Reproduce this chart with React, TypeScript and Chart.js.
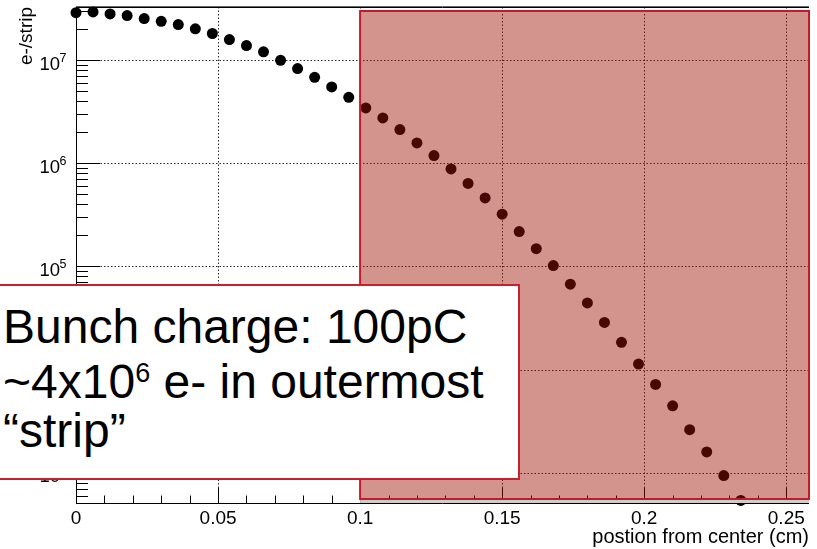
import React, { useEffect, useRef } from 'react';
import { Chart, registerables } from 'chart.js';

Chart.register(...registerables);

// ---- data ----
const positions = [
  0, 0.006, 0.012, 0.018, 0.024, 0.03, 0.036, 0.042, 0.048, 0.054,
  0.06, 0.066, 0.072, 0.078, 0.084, 0.09, 0.096, 0.102, 0.108, 0.114,
  0.12, 0.126, 0.132, 0.138, 0.144, 0.15, 0.156, 0.162, 0.168, 0.174,
  0.18, 0.186, 0.192, 0.198, 0.204, 0.21, 0.216, 0.222, 0.228, 0.234,
];
const electronsPerStrip = [
  2.9e7, 2.95e7, 2.82e7, 2.72e7, 2.54e7, 2.39e7, 2.22e7, 2.02e7, 1.82e7, 1.59e7,
  1.39e7, 1.21e7, 1.0e7, 8.31e6, 6.84e6, 5.52e6, 4.38e6, 3.45e6, 2.76e6, 2.13e6,
  1.58e6, 1.19e6, 8.83e5, 6.4e5, 4.62e5, 3.22e5, 2.18e5, 1.49e5, 1.02e5, 6.73e4,
  4.43e4, 2.87e4, 1.84e4, 1.13e4, 7.18e3, 4.45e3, 2.61e3, 1.59e3, 9.37e2, 5.38e2,
];
const xMajorTicks = [0, 0.05, 0.1, 0.15, 0.2, 0.25];
const yDecadeExponents = [3, 4, 5, 6, 7];
const xRange = [0, 0.258];
const yRange = [508, 3.29e7];
const shadedFrom = 0.1;
const xTitle = 'postion from center (cm)';
const yTitle = 'e-/strip';

const FONT = "'Liberation Sans', Arial, Helvetica, sans-serif";

const rootStyle = {
  id: 'rootStyle',
  beforeDatasetsDraw(chart: any) {
    const { ctx, chartArea: a, scales } = chart;
    const x = scales.x;
    const y = scales.y;
    ctx.save();
    // dotted grid
    ctx.strokeStyle = '#2a2a2a';
    ctx.lineWidth = 1;
    ctx.setLineDash([1.5, 2]);
    ctx.beginPath();
    for (const v of xMajorTicks) {
      if (v <= xRange[0]) continue;
      const px = Math.round(x.getPixelForValue(v)) + 0.5;
      ctx.moveTo(px, a.top);
      ctx.lineTo(px, a.bottom);
    }
    for (const e of yDecadeExponents) {
      const py = Math.round(y.getPixelForValue(Math.pow(10, e))) + 0.5;
      ctx.moveTo(a.left, py);
      ctx.lineTo(a.right, py);
    }
    ctx.stroke();
    ctx.setLineDash([]);

    // frame
    ctx.strokeStyle = '#000';
    ctx.lineWidth = 1;
    ctx.beginPath();
    ctx.moveTo(a.left + 0.5, a.top + 0.5);
    ctx.lineTo(a.right, a.top + 0.5);
    ctx.moveTo(a.left + 0.5, a.top);
    ctx.lineTo(a.left + 0.5, a.bottom + 1);
    ctx.moveTo(a.left, a.bottom + 0.5);
    ctx.lineTo(a.right, a.bottom + 0.5);
    ctx.stroke();
    ctx.strokeStyle = '#666';
    ctx.beginPath();
    ctx.moveTo(a.left, a.top - 0.5);
    ctx.lineTo(a.right, a.top - 0.5);
    ctx.stroke();

    // y ticks (inside)
    ctx.strokeStyle = '#000';
    ctx.beginPath();
    for (let n = 2; n <= 7; n++) {
      for (let m = 1; m <= 9; m++) {
        const v = m * Math.pow(10, n);
        if (v < yRange[0] || v > yRange[1]) continue;
        const py = Math.round(y.getPixelForValue(v)) + 0.5;
        const len = m === 1 ? 24 : 12;
        ctx.moveTo(a.left, py);
        ctx.lineTo(a.left + len, py);
      }
    }
    // x ticks (inside)
    for (let k = 0; k <= 25; k++) {
      const v = k / 100;
      const px = Math.round(x.getPixelForValue(v)) + 0.5;
      const len = k % 5 === 0 ? 15 : 7.5;
      ctx.moveTo(px, a.bottom);
      ctx.lineTo(px, a.bottom - len);
    }
    ctx.stroke();

    // y decade labels with exponents
    ctx.fillStyle = '#000';
    for (const e of yDecadeExponents) {
      const py = y.getPixelForValue(Math.pow(10, e));
      ctx.font = `18.5px ${FONT}`;
      ctx.textAlign = 'right';
      ctx.textBaseline = 'alphabetic';
      ctx.fillText('10', 60, py + 9.5);
      ctx.font = `12.5px ${FONT}`;
      ctx.textAlign = 'left';
      ctx.fillText(String(e), 59.5, py + 1.5);
    }
    ctx.restore();
  },
  afterDatasetsDraw(chart: any) {
    const { ctx, chartArea: a, scales } = chart;
    const x0 = scales.x.getPixelForValue(shadedFrom);
    const top = a.top + 4;
    const bottom = a.bottom - 4;
    ctx.save();
    ctx.fillStyle = '#cccccc';
    ctx.fillRect(x0, bottom, a.right - x0, a.bottom - bottom);
    ctx.fillStyle = 'rgba(160,18,4,0.45)';
    ctx.fillRect(x0, top, a.right - x0, bottom - top);
    ctx.strokeStyle = '#c01a2c';
    ctx.lineWidth = 2;
    ctx.strokeRect(x0, top, a.right - x0, bottom - top);
    ctx.restore();
  },
};

export default function App() {
  const canvasRef = useRef<HTMLCanvasElement | null>(null);

  useEffect(() => {
    if (!canvasRef.current) return;
    const chart = new Chart(canvasRef.current, {
      type: 'scatter',
      data: {
        datasets: [
          {
            data: positions.map((p, i) => ({ x: p, y: electronsPerStrip[i] })),
            backgroundColor: '#000',
            borderColor: '#000',
            borderWidth: 0,
            pointRadius: 5.5,
            pointHoverRadius: 5.5,
            showLine: false,
            clip: false as any,
          },
        ],
      },
      options: {
        animation: false,
        responsive: true,
        maintainAspectRatio: false,
        events: [],
        layout: { padding: { left: 0, right: 8, top: 7, bottom: 0 } },
        plugins: { legend: { display: false }, tooltip: { enabled: false } },
        scales: {
          x: {
            type: 'linear',
            min: xRange[0],
            max: xRange[1],
            afterFit: (s: any) => {
              s.height = 46;
            },
            grid: { display: false, drawTicks: false },
            border: { display: false },
            ticks: {
              stepSize: 0.05,
              includeBounds: false,
              autoSkip: false,
              maxRotation: 0,
              padding: 4,
              color: '#000',
              font: { family: FONT, size: 19 },
              callback: (v: any) => String(Number(Number(v).toFixed(3))),
            },
            title: {
              display: true,
              text: xTitle,
              align: 'end',
              color: '#000',
              font: { family: FONT, size: 20 },
              padding: { top: 0, bottom: 0 },
            },
          },
          y: {
            type: 'logarithmic',
            min: yRange[0],
            max: yRange[1],
            afterFit: (s: any) => {
              s.width = 76;
            },
            grid: { display: false, drawTicks: false },
            border: { display: false },
            ticks: { display: false },
            title: {
              display: true,
              text: yTitle,
              align: 'end',
              color: '#000',
              font: { family: FONT, size: 19 },
              padding: { top: 15, bottom: 0 },
            },
          },
        },
      } as any,
      plugins: [rootStyle],
    });
    return () => chart.destroy();
  }, []);

  const lineStyle: React.CSSProperties = {
    position: 'absolute',
    left: 21,
    fontSize: 48,
    lineHeight: '48px',
    whiteSpace: 'nowrap',
  };

  return (
    <>
      <div style={{ position: 'fixed', left: 0, top: 0, width: 817, height: 549, background: '#fff' }}>
        <canvas ref={canvasRef} />
      </div>
      <div
        style={{
          position: 'fixed',
          left: -20,
          top: 284,
          width: 540,
          height: 196,
          boxSizing: 'border-box',
          border: '2px solid #c8202f',
          background: '#fff',
          fontFamily: FONT,
          color: '#000',
        }}
      >
        <div style={{ ...lineStyle, top: 17 }}>Bunch charge: 100pC</div>
        <div style={{ ...lineStyle, top: 72 }}>
          ~4x10<span style={{ fontSize: 27, position: 'relative', top: -16 }}>6</span> e- in outermost
        </div>
        <div style={{ ...lineStyle, top: 120.5 }}>“strip”</div>
      </div>
    </>
  );
}
